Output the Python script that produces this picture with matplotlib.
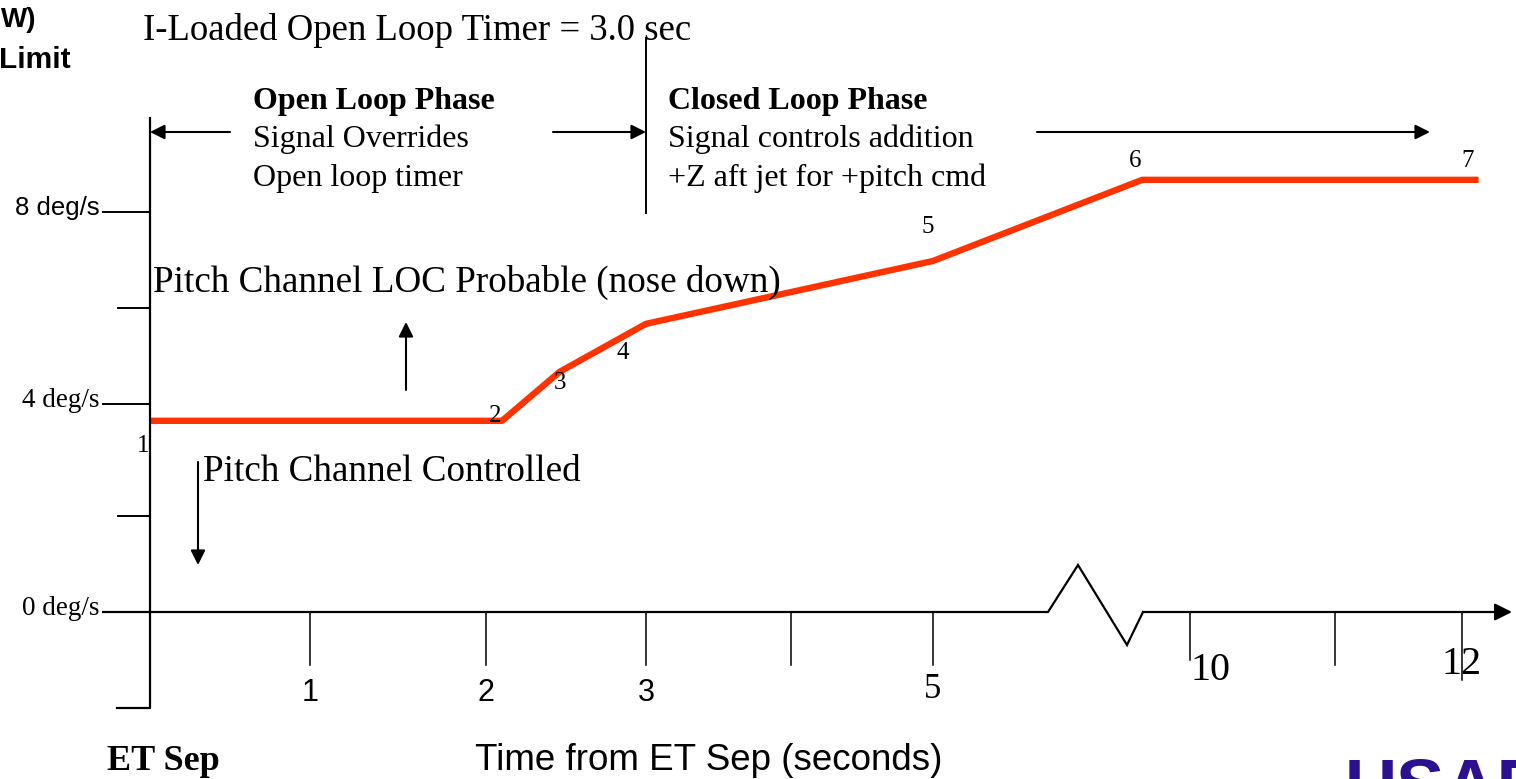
import numpy as np
import matplotlib
matplotlib.use('Agg')
import matplotlib.pyplot as plt
from matplotlib.transforms import blended_transform_factory, offset_copy

# ---------------- data ----------------
point_labels = ['1', '2', '3', '4', '5', '6', '7']
rate_time = [0.0, 2.1, 2.46, 3.0, 5.0, 9.07, 12.13]      # seconds from ET Sep
rate_degs = [3.70, 3.70, 4.67, 5.67, 6.98, 8.67, 8.67]   # deg/s
x_tick_vals = [1, 2, 3, 4, 5, 10, 11, 12]
x_tick_labels = ['1', '2', '3', '', '5', '10', '', '12']
y_tick_vals = [0, 2, 4, 6, 8]
y_tick_labels = ['0 deg/s', '', '4 deg/s', '', '8 deg/s']
timer_sec = 3.0

# piecewise axis layout (broken time axis)
T_KNOTS = [-0.9375, 0, 1, 2, 3, 4, 5, 10, 11, 12, 12.425]
X_PIX = [0, 150, 310, 486, 646, 791, 933, 1190, 1335, 1462, 1516]
V_KNOTS = [-3.48, 0, 2, 4, 6, 8, 12.4167]
Y_PIX = [779, 612, 516, 404, 308, 212, 0]

W, H = 1516, 779
fig = plt.figure(figsize=(W / 100, H / 100), dpi=100)

def fx(t):
    return np.interp(t, T_KNOTS, X_PIX)
def ifx(p):
    return np.interp(p, X_PIX, T_KNOTS)
def fy(v):
    return -np.interp(v, V_KNOTS, Y_PIX)
def ify(u):
    return np.interp(-np.asarray(u), Y_PIX[::-1], V_KNOTS[::-1])

ax = fig.add_axes([0, 0, 1, 1])
ax.set_xscale('function', functions=(fx, ifx))
ax.set_yscale('function', functions=(fy, ify))
ax.set_xlim(T_KNOTS[0], T_KNOTS[-1])
ax.set_ylim(V_KNOTS[0], V_KNOTS[-1])
ax.axis('off')

ov = fig.add_axes([0, 0, 1, 1], zorder=3)
ov.set_xlim(0, W)
ov.set_ylim(H, 0)
ov.axis('off')
ov.patch.set_alpha(0)

SERIF = 'Liberation Serif'
SANS = 'Liberation Sans'
K = 'black'

# ---------------- axes lines ----------------
ov.plot([103, 1048, 1078, 1127, 1143], [612, 612, 565, 645, 612], color=K, lw=1.6,
        solid_joinstyle='miter')
ov.annotate('', xy=(1512, 612), xytext=(1143, 612),
            arrowprops=dict(arrowstyle='-|>', color=K, lw=1.6, mutation_scale=26,
                            shrinkA=0, shrinkB=0))
ov.plot([117, 150, 150], [708, 708, 118], color=K, lw=1.6)

# y ticks
bt = blended_transform_factory(ov.transData, ax.transData)
bt_lab = offset_copy(bt, fig=fig, x=0, y=-3, units='dots')
for v, lab in zip(y_tick_vals, y_tick_labels):
    x0 = 103 if lab else 118
    ax.plot([x0, 150], [v, v], color=K, lw=1.4, transform=bt)
    if lab:
        fam = SANS if lab.startswith('8') else SERIF
        ax.text(100, v, lab, transform=bt_lab, ha='right', va='baseline',
                fontsize=19.5 if fam == SERIF else 18.5, family=fam)

# x ticks
for t, lab in zip(x_tick_vals, x_tick_labels):
    bottom = {10: -1.0, 12: -1.42}.get(t, -1.1)
    ax.plot([t, t], [0, bottom], color=K, lw=1.1)
for t, lab in zip(x_tick_vals, x_tick_labels):
    if not lab:
        continue
    if t <= 3:
        ax.text(t, -1.69, lab, ha='center', va='center', fontsize=22, family=SANS)
    elif t == 5:
        ax.text(t, -1.625, lab, ha='center', va='center', fontsize=25, family=SERIF)
    elif t == 10:
        ax.text(t, -1.21, lab, ha='left', va='center', fontsize=29, family=SERIF)
    else:
        ax.text(t, -1.1, lab, ha='center', va='center', fontsize=29, family=SERIF)

# ---------------- red rate line ----------------
ax.plot(rate_time, rate_degs, color='#ff3300', lw=4.6, solid_capstyle='butt',
        solid_joinstyle='round', zorder=4)

label_pos = [(143, 443), (495, 413), (560, 380), (623, 350), (928, 224), (1135, 158), (1468, 158)]
for lab, (px, py) in zip(point_labels, label_pos):
    ov.text(px, py, lab, ha='center', va='center_baseline', fontsize=18, family=SERIF)

# ---------------- annotations ----------------
ov.plot([646, 646], [38, 213], color=K, lw=1.4)

def arrow(x0, y0, x1, y1):
    ov.annotate('', xy=(x1, y1), xytext=(x0, y0),
                arrowprops=dict(arrowstyle='-|>', color=K, lw=1.5, mutation_scale=22,
                                shrinkA=0, shrinkB=0))

arrow(230, 132, 150, 132)
arrow(553, 132, 646, 132)
arrow(1037, 132, 1430, 132)
arrow(406, 390, 406, 322)
arrow(198, 462, 198, 565)

VA = 'center_baseline'
ov.text(143, 26, f'I-Loaded Open Loop Timer = {timer_sec:.1f} sec', ha='left', va=VA,
        fontsize=26.5, family=SERIF)
ov.text(253, 98, 'Open Loop Phase', ha='left', va=VA, fontsize=23, family=SERIF,
        weight='bold')
ov.text(253, 136, 'Signal Overrides', ha='left', va=VA, fontsize=23, family=SERIF)
ov.text(253, 175, 'Open loop timer', ha='left', va=VA, fontsize=23, family=SERIF)
ov.text(668, 98, 'Closed Loop Phase', ha='left', va=VA, fontsize=23, family=SERIF,
        weight='bold')
ov.text(668, 136, 'Signal controls addition', ha='left', va=VA, fontsize=23, family=SERIF)
ov.text(668, 175, '+Z aft jet for +pitch cmd', ha='left', va=VA, fontsize=23, family=SERIF)
ov.text(153, 278, 'Pitch Channel LOC Probable (nose down)', ha='left', va=VA,
        fontsize=26.7, family=SERIF)
ov.text(203, 468, 'Pitch Channel Controlled', ha='left', va=VA, fontsize=26.7,
        family=SERIF)
ov.text(107, 758, 'ET Sep', ha='left', va=VA, fontsize=26, family=SERIF, weight='bold')
ov.text(475, 757, 'Time from ET Sep (seconds)', ha='left', va=VA, fontsize=26.5,
        family=SANS)
ov.text(36, 17, 'W)', ha='right', va=VA, fontsize=20, family=SANS, weight='bold')
ov.text(71, 57, 'Limit', ha='right', va=VA, fontsize=21.5, family=SANS, weight='bold')
ov.text(1345, 756, 'USAF', ha='left', va='top', fontsize=52, family=SANS, weight='bold',
        color='#2b1090')

fig.savefig('out.png', dpi=100)
